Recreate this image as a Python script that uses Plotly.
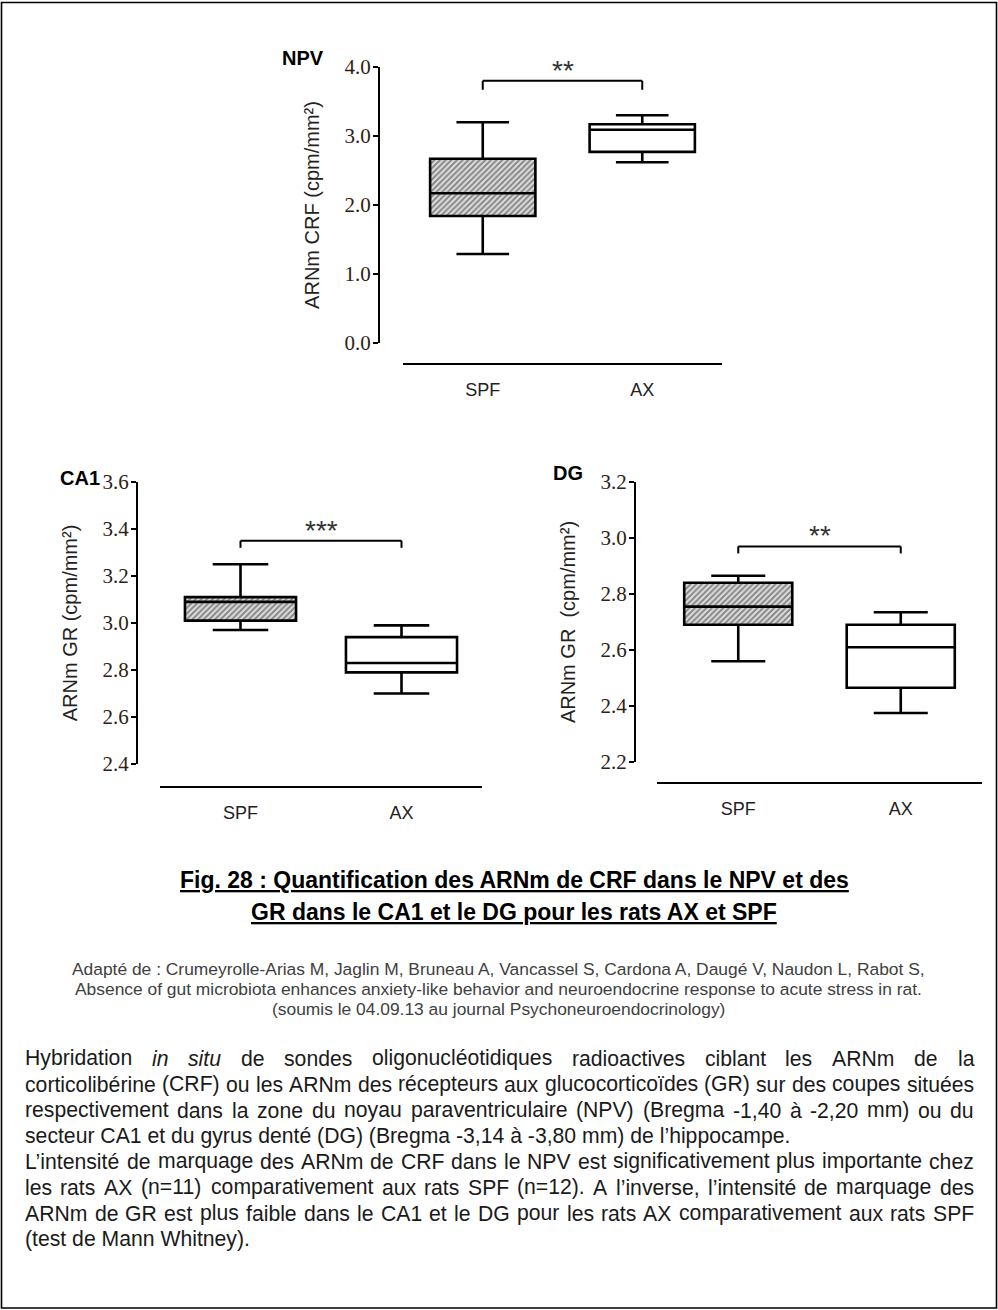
import re
import plotly.graph_objects as go

W, H = 998, 1310

# ---------------- data ----------------
groups = ["SPF", "AX"]

npv_low = [1.29, 2.62]
npv_q1 = [1.84, 2.77]
npv_med = [2.17, 3.09]
npv_q3 = [2.67, 3.17]
npv_high = [3.20, 3.30]

ca1_low = [2.97, 2.70]
ca1_q1 = [3.01, 2.79]
ca1_med = [3.09, 2.83]
ca1_q3 = [3.11, 2.94]
ca1_high = [3.25, 2.99]

dg_low = [2.56, 2.375]
dg_q1 = [2.69, 2.465]
dg_med = [2.755, 2.61]
dg_q3 = [2.84, 2.69]
dg_high = [2.865, 2.735]

panel_names = ["NPV", "CA1", "DG"]
y_titles = ["ARNm CRF (cpm/mm²)", "ARNm GR (cpm/mm²)", "ARNm GR  (cpm/mm²)"]
y_ranges = [[0.0, 4.0], [2.4, 3.6], [2.2, 3.2]]
y_dticks = [1.0, 0.2, 0.2]
sig_labels = ["**", "***", "**"]
sig_heights = [3.80, 3.35, 2.97]
sig_drops = [0.13, 0.03, 0.025]

title_lines = [
    "Fig. 28 : Quantification des ARNm de CRF dans le NPV et des",
    "GR dans le CA1 et le DG pour les rats AX et SPF",
]
caption_lines = [
    "Adapté de : Crumeyrolle-Arias M, Jaglin M, Bruneau A, Vancassel S, Cardona A, Daugé V, Naudon L, Rabot S,",
    "Absence of gut microbiota enhances anxiety-like behavior and neuroendocrine response to acute stress in rat.",
    "(soumis le 04.09.13 au journal Psychoneuroendocrinology)",
]
para_lines = [
    "Hybridation <i>in</i> <i>situ</i> de sondes oligonucléotidiques radioactives ciblant les ARNm de la",
    "corticolibérine (CRF) ou les ARNm des récepteurs aux glucocorticoïdes (GR) sur des coupes situées",
    "respectivement dans la zone du noyau paraventriculaire (NPV) (Bregma -1,40 à -2,20 mm) ou du",
    "secteur CA1 et du gyrus denté (DG) (Bregma -3,14 à -3,80 mm) de l’hippocampe.",
    "L’intensité de marquage des ARNm de CRF dans le NPV est significativement plus importante chez",
    "les rats AX (n=11) comparativement aux rats SPF (n=12). A l’inverse, l’intensité de marquage des",
    "ARNm de GR est plus faible dans le CA1 et le DG pour les rats AX comparativement aux rats SPF",
    "(test de Mann Whitney).",
]
para_justify = [True, True, True, False, True, True, True, False]

# ---------------- layout geometry (pixels) ----------------
geo = [
    dict(xl=403, xr=722, yt=67, yb=343, yax=379, xax=364, bw=0.66, lab=(303, 58)),
    dict(xl=160, xr=482, yt=482, yb=764, yax=137, xax=787, bw=0.69, lab=(80, 478)),
    dict(xl=657, xr=982, yt=482, yb=762, yax=635, xax=783, bw=0.665, lab=(568, 473)),
]

def px(x):
    return x / W

def py(y):
    return 1 - y / H

# Arial / Liberation Sans advance widths (1/1000 em)
AW = {" ": 278, "!": 278, "'": 191, "(": 333, ")": 333, ",": 278, "-": 333, ".": 278,
      "/": 278, ":": 278, ";": 278, "=": 584, "’": 222}
for ch in "0123456789":
    AW[ch] = 556
AW.update(dict(zip("ABCDEFGHIJKLMNOPQRSTUVWXYZ",
                   [667, 667, 722, 722, 667, 611, 778, 722, 278, 500, 667, 556, 833,
                    722, 778, 667, 778, 722, 667, 611, 722, 667, 944, 667, 667, 611])))
AW.update(dict(zip("abcdefghijklmnopqrstuvwxyz",
                   [556, 556, 500, 556, 556, 278, 556, 556, 222, 222, 500, 222, 833,
                    556, 556, 556, 556, 333, 500, 278, 556, 500, 722, 500, 500, 500])))
AW.update({"é": 556, "è": 556, "à": 556, "ê": 556, "ï": 278})

def units(s):
    s = re.sub(r"<[^>]+>", "", s)
    return sum(AW.get(c, 556) for c in s)

fig = go.Figure()

datasets = [
    (npv_low, npv_q1, npv_med, npv_q3, npv_high),
    (ca1_low, ca1_q1, ca1_med, ca1_q3, ca1_high),
    (dg_low, dg_q1, dg_med, dg_q3, dg_high),
]

annotations = []
shapes = []
layout_axes = {}

for i, (g, d) in enumerate(zip(geo, datasets)):
    low, q1, med, q3, high = d
    xa = "x" if i == 0 else f"x{i+1}"
    ya = "y" if i == 0 else f"y{i+1}"
    # hatched fill for SPF box
    fig.add_trace(go.Bar(
        x=[groups[0]], y=[q3[0] - q1[0]], base=[q1[0]], width=g["bw"],
        marker=dict(color="white", line=dict(width=0),
                    pattern=dict(shape="/", fgcolor="#262626", bgcolor="#dadada",
                                 size=4, solidity=0.45)),
        xaxis=xa, yaxis=ya, hoverinfo="skip", showlegend=False))
    fig.add_trace(go.Box(
        x=groups, q1=q1, median=med, q3=q3, lowerfence=low, upperfence=high,
        width=g["bw"], whiskerwidth=0.5, boxpoints=False,
        line=dict(color="black", width=2.6), fillcolor="rgba(0,0,0,0)",
        xaxis=xa, yaxis=ya, showlegend=False))

    xkey = "xaxis" if i == 0 else f"xaxis{i+1}"
    ykey = "yaxis" if i == 0 else f"yaxis{i+1}"
    layout_axes[xkey] = dict(
        domain=[px(g["xl"]), px(g["xr"])], anchor="free", position=py(g["xax"]),
        type="category", range=[-0.5, 1.5], showline=True, linecolor="black", linewidth=2,
        ticks="", showgrid=False, zeroline=False, ticklabelstandoff=9, automargin=False,
        tickfont=dict(family="Liberation Sans, Arial", size=18, color="#222222"),
        fixedrange=True)
    layout_axes[ykey] = dict(
        domain=[py(g["yb"]), py(g["yt"])], anchor="free", position=px(g["yax"]),
        range=y_ranges[i], tick0=y_ranges[i][0], dtick=y_dticks[i], tickformat=".1f",
        ticks="outside", ticklen=5, tickwidth=2, tickcolor="black",
        showline=True, linecolor="black", linewidth=2, showgrid=False, zeroline=False,
        ticklabelstandoff=-2, automargin=False,
        tickfont=dict(family="Liberation Serif, Times New Roman", size=21, color="#2e2218"),
        title=dict(text=y_titles[i], standoff=19,
                   font=dict(family="Liberation Sans, Arial", size=20, color="#222222")),
        fixedrange=True)

    # significance bracket
    h, dr = sig_heights[i], sig_drops[i]
    for (x0, y0, x1, y1) in [(0, h - dr, 0, h), (0, h, 1, h), (1, h, 1, h - dr)]:
        shapes.append(dict(type="line", xref=xa, yref=ya, x0=x0, y0=y0, x1=x1, y1=y1,
                           line=dict(color="black", width=2)))
    annotations.append(dict(xref=xa, yref=ya, x=0.5, y=h, text=sig_labels[i],
                            showarrow=False, yanchor="bottom", yshift=-7,
                            font=dict(family="Liberation Sans, Arial", size=28, color="#333333")))
    # panel label
    annotations.append(dict(xref="paper", yref="paper", x=px(g["lab"][0]), y=py(g["lab"][1]),
                            text=f"<b>{panel_names[i]}</b>", showarrow=False,
                            xanchor="center", yanchor="middle",
                            font=dict(family="Liberation Sans, Arial", size=20, color="black")))

# ---------------- figure title ----------------
for txt, yy in zip(title_lines, [880, 912]):
    annotations.append(dict(xref="paper", yref="paper", x=px(514), y=py(yy),
                            text=f"<b><u>{txt}</u></b>", showarrow=False,
                            xanchor="center", yanchor="middle",
                            font=dict(family="Liberation Sans, Arial", size=23, color="black")))

# ---------------- caption ----------------
cap_size = round(846 * 1000 / units(caption_lines[1]), 1)
for txt, yy in zip(caption_lines, [969, 989, 1009]):
    annotations.append(dict(xref="paper", yref="paper", x=px(498), y=py(yy),
                            text=txt, showarrow=False, xanchor="center", yanchor="middle",
                            font=dict(family="Liberation Sans, Arial", size=cap_size,
                                      color="#404040")))

# ---------------- justified paragraph ----------------
left, right = 25, 974
span = right - left
psize = min(944 * 1000 / units(l) for l, j in zip(para_lines, para_justify) if j)
psize = round(psize, 1)
para_y = [1058, 1084, 1110, 1136, 1161, 1187, 1213, 1239]
pfont = dict(family="Liberation Sans, Arial", size=psize, color="#1a1a1a")
for line, just, yy in zip(para_lines, para_justify, para_y):
    if not just:
        annotations.append(dict(xref="paper", yref="paper", x=px(left), y=py(yy), text=line,
                                showarrow=False, xanchor="left", yanchor="middle",
                                borderpad=0, borderwidth=0, font=pfont))
        continue
    words = line.split(" ")
    widths = [units(w) * psize / 1000 for w in words]
    gap = (span - sum(widths)) / (len(words) - 1)
    xcur = left
    for w, wd in zip(words, widths):
        annotations.append(dict(xref="paper", yref="paper", x=px(xcur), y=py(yy), text=w,
                                showarrow=False, xanchor="left", yanchor="middle",
                                borderpad=0, borderwidth=0, font=pfont))
        xcur += wd + gap

# outer frame
shapes.append(dict(type="rect", xref="paper", yref="paper", x0=px(1.5), x1=px(996.5),
                   y0=py(1308), y1=py(2.5), line=dict(color="black", width=1.6)))

fig.update_layout(
    width=W, height=H, autosize=False,
    margin=dict(l=0, r=0, t=0, b=0, pad=0, autoexpand=False),
    paper_bgcolor="white", plot_bgcolor="rgba(0,0,0,0)",
    showlegend=False, barmode="overlay",
    annotations=annotations, shapes=shapes,
    **layout_axes,
)

fig.write_html(
    "out.html",
    config={"displayModeBar": False},
    post_script=("document.documentElement.style.margin='0';"
                 "document.documentElement.style.padding='0';"
                 "document.body.style.margin='0';document.body.style.padding='0';"
                 "document.body.style.overflow='hidden';"),
)
